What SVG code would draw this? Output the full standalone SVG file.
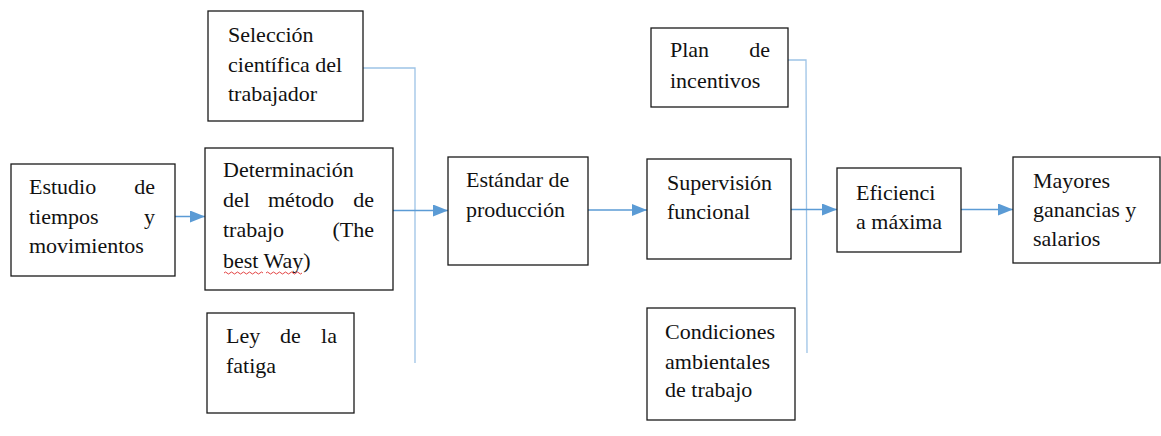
<svg xmlns="http://www.w3.org/2000/svg" width="1161" height="436" viewBox="0 0 1161 436">
<defs>
<style>
.box{fill:#fff;stroke:#1a1a1a;stroke-width:1.3}
.t{font-family:'Liberation Serif','Times New Roman',serif;font-size:22px;fill:#111}
.e{text-anchor:end}
.c{fill:none;stroke:#5b9bd5;stroke-width:1.3}
.v{fill:none;stroke:#9dc3e6;stroke-width:1.3}
</style>
<marker id="ah" viewBox="0 0 10 10" refX="10" refY="5" markerWidth="15" markerHeight="12" markerUnits="userSpaceOnUse" orient="auto" preserveAspectRatio="none">
<path d="M0,0 L10,5 L0,10 Z" fill="#5b9bd5"/>
</marker>
</defs>
<rect width="1161" height="436" fill="#fff"/>

<g id="connectors">
<line class="c" x1="162" y1="216.5" x2="205" y2="216.5" marker-end="url(#ah)"/>
<polyline class="v" points="363,68 415,68 415,363"/>
<line class="c" x1="393" y1="210.5" x2="448" y2="210.5" marker-end="url(#ah)"/>
<line class="c" x1="588" y1="210" x2="647" y2="210" marker-end="url(#ah)"/>
<polyline class="v" points="788,60 806,60 807,353"/>
<line class="c" x1="791" y1="209.5" x2="837" y2="209.5" marker-end="url(#ah)"/>
<line class="c" x1="961" y1="209.5" x2="1013" y2="209.5" marker-end="url(#ah)"/>
</g>

<g id="estudio">
<rect class="box" x="11" y="164" width="164" height="112"/>
<text class="t" x="29" y="194">Estudio</text><text class="t e" x="155" y="194">de</text>
<text class="t" x="29" y="224">tiempos</text><text class="t e" x="155" y="224">y</text>
<text class="t" x="29" y="253">movimientos</text>
</g>

<g id="seleccion">
<rect class="box" x="208" y="11" width="155" height="110"/>
<text class="t" x="228" y="42">Selección</text>
<text class="t" x="228" y="72">científica del</text>
<text class="t" x="228" y="101">trabajador</text>
</g>

<g id="determinacion">
<rect class="box" x="205" y="148" width="188" height="142"/>
<text class="t" x="223" y="177">Determinación</text>
<text class="t" x="223" y="207">del</text><text class="t" x="268" y="207">método</text><text class="t e" x="374" y="207">de</text>
<text class="t" x="223" y="237">trabajo</text><text class="t e" x="374" y="237">(The</text>
<text class="t" x="223" y="268">best Way)</text>
<path d="M224,273 q1.5,-2 3,0 t3,0 t3,0 t3,0 t3,0 t3,0 t3,0 t3,0 t3,0 t3,0 t3,0 t3,0 t3,0" fill="none" stroke="#e03030" stroke-width="0.9"/>
<path d="M266,273 q1.5,-2 3,0 t3,0 t3,0 t3,0 t3,0 t3,0 t3,0 t3,0 t3,0 t3,0 t3,0 t3,0" fill="none" stroke="#e03030" stroke-width="0.9"/>
</g>

<g id="ley">
<rect class="box" x="207" y="313" width="147" height="100"/>
<text class="t" x="226" y="343">Ley</text><text class="t" x="280" y="343">de</text><text class="t e" x="337" y="343">la</text>
<text class="t" x="226" y="373">fatiga</text>
</g>

<g id="estandar">
<rect class="box" x="448" y="157" width="140" height="108"/>
<text class="t" x="466" y="187">Estándar de</text>
<text class="t" x="466" y="217">producción</text>
</g>

<g id="plan">
<rect class="box" x="651" y="28" width="137" height="79"/>
<text class="t" x="670" y="57">Plan</text><text class="t e" x="770" y="57">de</text>
<text class="t" x="670" y="88">incentivos</text>
</g>

<g id="supervision">
<rect class="box" x="647" y="159" width="144" height="100"/>
<text class="t" x="667" y="190">Supervisión</text>
<text class="t" x="667" y="219">funcional</text>
</g>

<g id="condiciones">
<rect class="box" x="647" y="308" width="148" height="112"/>
<text class="t" x="665" y="339">Condiciones</text>
<text class="t" x="665" y="369">ambientales</text>
<text class="t" x="665" y="397">de trabajo</text>
</g>

<g id="eficiencia">
<rect class="box" x="837" y="168" width="124" height="84"/>
<text class="t" x="856" y="200">Eficienci</text>
<text class="t" x="856" y="229">a máxima</text>
</g>

<g id="mayores">
<rect class="box" x="1013" y="157" width="147" height="106"/>
<text class="t" x="1033" y="188">Mayores</text>
<text class="t" x="1033" y="217">ganancias y</text>
<text class="t" x="1033" y="246">salarios</text>
</g>
</svg>
